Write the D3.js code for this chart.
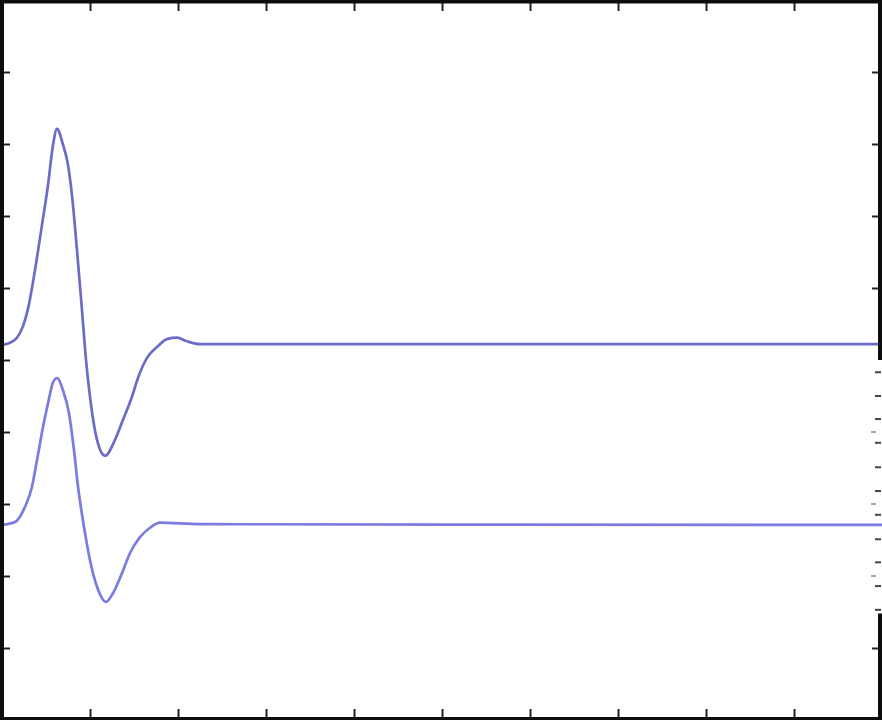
<!DOCTYPE html>
<html>
<head>
<meta charset="utf-8">
<script src="https://cdn.jsdelivr.net/npm/d3@7"></script>
<style>
  html, body { margin: 0; padding: 0; background: #fff; }
  svg { display: block; }
</style>
</head>
<body>
<div id="chart"></div>
<script>
var width = 882, height = 720;

// upper trace (time, amplitude)
var upperX = [0, 0.091, 0.170, 0.239, 0.295, 0.375, 0.455, 0.523, 0.580, 0.625, 0.693, 0.750, 0.795, 0.852, 0.909, 0.955,
              1.0, 1.080, 1.170, 1.284, 1.375, 1.477, 1.545, 1.648, 1.761, 1.875, 1.989, 2.102, 2.25, 10];
var upperY = [0.21, 0.24, 0.31, 0.47, 0.71, 1.25, 1.88, 2.43, 2.99, 3.21, 2.99, 2.71, 2.29, 1.53, 0.69, 0.0,
              -0.51, -1.11, -1.33, -1.11, -0.83, -0.51, -0.25, 0.03, 0.18, 0.29, 0.31, 0.26, 0.22, 0.22];

// lower trace
var lowerX = [0, 0.148, 0.261, 0.341, 0.398, 0.466, 0.523, 0.580, 0.625, 0.693, 0.761, 0.818, 0.864, 0.932,
              1.0, 1.080, 1.182, 1.261, 1.364, 1.455, 1.568, 1.682, 1.795, 2.250, 10];
var lowerY = [-2.29, -2.25, -2.04, -1.76, -1.39, -0.93, -0.60, -0.31, -0.25, -0.42, -0.74, -1.25, -1.76, -2.32,
              -2.78, -3.15, -3.36, -3.24, -2.96, -2.68, -2.46, -2.33, -2.26, -2.28, -2.29];

var xTicks = [1, 2, 3, 4, 5, 6, 7, 8, 9];
var yTicks = [-4, -3, -2, -1, 0, 1, 2, 3, 4];
// little marks of the neighbouring panel showing at the right edge
var sideMarks = [-0.17, -0.5, -0.82, -1.15, -1.49, -1.82, -2.15, -2.49, -2.81, -3.14, -3.47];

var x = d3.scaleLinear().domain([0, 10]).range([2, 882]);
var y = d3.scaleLinear().domain([-5, 5]).range([720, 0]);

var svg = d3.select("#chart").append("svg")
    .attr("width", width)
    .attr("height", height);

var defs = svg.append("defs");
defs.append("filter").attr("id", "soft")
    .append("feGaussianBlur").attr("stdDeviation", 0.7);

var g = svg.append("g").attr("filter", "url(#soft)");

var line = d3.line()
    .x(function(d){ return x(d[0]); })
    .y(function(d){ return y(d[1]); })
    .curve(d3.curveMonotoneX);

g.append("path")
    .datum(d3.zip(upperX, upperY))
    .attr("d", line)
    .attr("fill", "none")
    .attr("stroke", "#6c6cc8")
    .attr("stroke-width", 2.7);

g.append("path")
    .datum(d3.zip(lowerX, lowerY))
    .attr("d", line)
    .attr("fill", "none")
    .attr("stroke", "#7b7be0")
    .attr("stroke-width", 2.7);

// ticks, pointing inwards, no labels
var axes = g.append("g").attr("class", "axes");

axes.append("g")
    .attr("transform", "translate(0," + (height - 2) + ")")
    .call(d3.axisTop(x).tickValues(xTicks).tickSize(9).tickFormat(""))
    .call(function(a){ a.select(".domain").remove(); });

axes.append("g")
    .attr("transform", "translate(0,2)")
    .call(d3.axisBottom(x).tickValues(xTicks).tickSize(9).tickFormat(""))
    .call(function(a){ a.select(".domain").remove(); });

axes.append("g")
    .attr("transform", "translate(2,0)")
    .call(d3.axisRight(y).tickValues(yTicks).tickSize(8).tickFormat(""))
    .call(function(a){ a.select(".domain").remove(); });

axes.selectAll(".tick line")
    .attr("stroke", "#222")
    .attr("stroke-width", 2);

// right side: main ticks only where the frame is visible
var rightTicks = yTicks.filter(function(v){ return v > 0 || v < -3.5; });
axes.append("g")
    .attr("transform", "translate(880,0)")
    .call(d3.axisLeft(y).tickValues(rightTicks).tickSize(8).tickFormat(""))
    .call(function(a){ a.select(".domain").remove(); })
    .selectAll(".tick line").attr("stroke", "#222").attr("stroke-width", 2);

// faint main ticks in the gap
axes.selectAll(".faint")
    .data([-1, -2, -3])
    .enter().append("line")
    .attr("class", "faint")
    .attr("x1", 871).attr("x2", 876)
    .attr("y1", function(d){ return y(d); })
    .attr("y2", function(d){ return y(d); })
    .attr("stroke", "#aaa")
    .attr("stroke-width", 2);

axes.selectAll(".side")
    .data(sideMarks)
    .enter().append("line")
    .attr("class", "side")
    .attr("x1", 875).attr("x2", 881)
    .attr("y1", function(d){ return y(d); })
    .attr("y2", function(d){ return y(d); })
    .attr("stroke", "#444")
    .attr("stroke-width", 2);

// frame
var frame = g.append("g").attr("stroke", "#111").attr("fill", "none");
frame.append("line").attr("x1", 0).attr("x2", width).attr("y1", 1.5).attr("y2", 1.5).attr("stroke-width", 4);
frame.append("line").attr("x1", 2).attr("x2", 2).attr("y1", 0).attr("y2", height).attr("stroke-width", 4);
frame.append("line").attr("x1", 0).attr("x2", width).attr("y1", height - 1.5).attr("y2", height - 1.5).attr("stroke-width", 3);
frame.append("line").attr("x1", 880).attr("x2", 880).attr("y1", 0).attr("y2", y(0)).attr("stroke-width", 4);
frame.append("line").attr("x1", 880).attr("x2", 880).attr("y1", y(-3.52)).attr("y2", height).attr("stroke-width", 4);
</script>
</body>
</html>
